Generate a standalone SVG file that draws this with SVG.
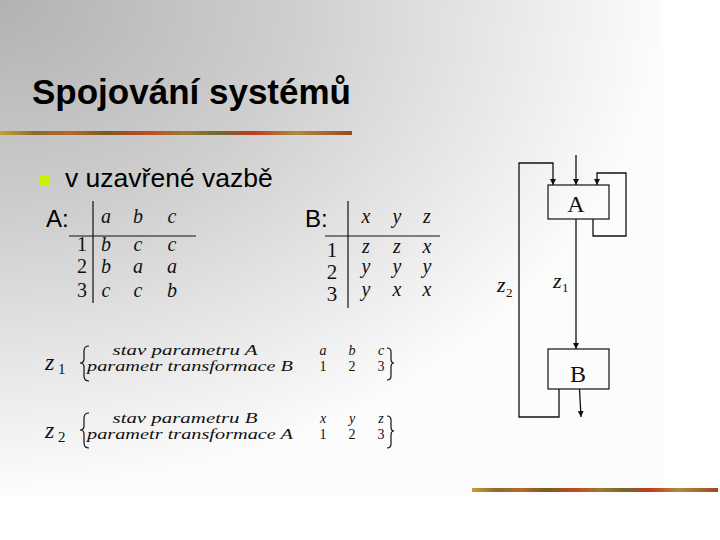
<svg xmlns="http://www.w3.org/2000/svg" width="720" height="540" viewBox="0 0 720 540">
<defs>
<radialGradient id="bg" gradientUnits="userSpaceOnUse" cx="0" cy="0" r="663" gradientTransform="matrix(1 0 0 0.74 0 0)">
<stop offset="0" stop-color="#b2b2b2"/>
<stop offset="0.45" stop-color="#cfcfcf"/>
<stop offset="1" stop-color="#fcfcfc"/>
</radialGradient>
<linearGradient id="bar" x1="0" y1="0" x2="1" y2="0">
<stop offset="0" stop-color="#c9a030"/>
<stop offset="0.1" stop-color="#8a6a30"/>
<stop offset="0.2" stop-color="#b8682a"/>
<stop offset="0.3" stop-color="#7a5a22"/>
<stop offset="0.42" stop-color="#c24a24"/>
<stop offset="0.52" stop-color="#a07834"/>
<stop offset="0.62" stop-color="#6e6a30"/>
<stop offset="0.72" stop-color="#c03a22"/>
<stop offset="0.84" stop-color="#b08a40"/>
<stop offset="1" stop-color="#9a4a22"/>
</linearGradient>
<marker id="arr" viewBox="0 0 6 6" refX="6" refY="3" markerWidth="6" markerHeight="6" markerUnits="userSpaceOnUse" orient="auto">
<path d="M0,0 L6,3 L0,6 z" fill="#111"/>
</marker>
<style>
.title{font-family:"Liberation Sans",Arial,sans-serif;font-weight:bold;font-size:35px;fill:#000}
.sans{font-family:"Liberation Sans",Arial,sans-serif;fill:#000}
.mi{font-family:"Liberation Serif","Times New Roman",serif;font-style:italic;fill:#111}
.mn{font-family:"Liberation Serif","Times New Roman",serif;fill:#111}
.ln{stroke:#111;stroke-width:1.2;fill:none}
.box{fill:none;stroke:#111;stroke-width:1.2}
.con{stroke:#111;stroke-width:1.3;fill:none}
</style>
</defs>
<rect width="720" height="540" fill="#ffffff"/>
<rect x="0" y="0" width="663" height="495" fill="url(#bg)"/>

<g id="title">
<text class="title" x="32" y="104">Spojování systémů</text>
<rect x="0" y="131" width="352" height="4" fill="url(#bar)"/>
</g>
<rect x="472" y="488" width="246" height="4" fill="url(#bar)"/>

<g id="bullet">
<rect x="40" y="175" width="10" height="10" fill="#ccf000"/>
<text class="sans" x="65" y="187" font-size="26.5">v uzavřené vazbě</text>
</g>

<g id="tableA">
<text class="sans" x="46" y="227" font-size="24">A:</text>
<line class="ln" x1="93" y1="201" x2="93" y2="303"/>
<line class="ln" x1="69" y1="236" x2="196" y2="236"/>
<g class="mi" font-size="20" text-anchor="middle">
<text x="106" y="223">a</text><text x="138" y="223">b</text><text x="172" y="223">c</text>
<text x="106" y="251">b</text><text x="138" y="251">c</text><text x="172" y="251">c</text>
<text x="106" y="273">b</text><text x="138" y="273">a</text><text x="172" y="273">a</text>
<text x="106" y="297">c</text><text x="138" y="297">c</text><text x="172" y="297">b</text>
</g>
<g class="mn" font-size="20" text-anchor="middle">
<text x="82" y="251">1</text><text x="82" y="273">2</text><text x="82" y="297">3</text>
</g>
</g>

<g id="tableB">
<text class="sans" x="305" y="227" font-size="24">B:</text>
<line class="ln" x1="348" y1="201" x2="348" y2="308"/>
<line class="ln" x1="325" y1="236" x2="440" y2="236"/>
<g class="mi" font-size="20" text-anchor="middle">
<text x="366" y="223">x</text><text x="397" y="223">y</text><text x="427" y="223">z</text>
<text x="366" y="253">z</text><text x="397" y="253">z</text><text x="427" y="253">x</text>
<text x="366" y="273">y</text><text x="397" y="273">y</text><text x="427" y="273">y</text>
<text x="366" y="296">y</text><text x="397" y="296">x</text><text x="427" y="296">x</text>
</g>
<g class="mn" font-size="21" text-anchor="middle">
<text x="332" y="257">1</text><text x="332" y="279">2</text><text x="332" y="301">3</text>
</g>
</g>

<g id="z1def">
<text class="mi" x="45" y="370" font-size="24">z</text>
<text class="mn" x="58" y="374" font-size="15">1</text>
<path class="ln" d="M89,346 Q84,346 84,351 L84,359 Q84,363 80,363 Q84,363 84,367 L84,376 Q84,381 89,381"/>
<text class="mi" x="185" y="355" font-size="14" text-anchor="middle" textLength="145" lengthAdjust="spacingAndGlyphs">stav parametru A</text>
<text class="mi" x="87" y="371" font-size="14" textLength="206" lengthAdjust="spacingAndGlyphs">parametr transformace B</text>
<g class="mi" font-size="14" text-anchor="middle">
<text x="323" y="355">a</text><text x="352" y="355">b</text><text x="381" y="355">c</text>
</g>
<g class="mn" font-size="14" text-anchor="middle">
<text x="323" y="371">1</text><text x="352" y="371">2</text><text x="381" y="371">3</text>
</g>
<path class="ln" d="M387,348 Q391,348 391,352 L391,359 Q391,363 394,363 Q391,363 391,367 L391,376 Q391,380 387,380"/>
</g>

<g id="z2def">
<text class="mi" x="45" y="438" font-size="24">z</text>
<text class="mn" x="58" y="442" font-size="15">2</text>
<path class="ln" d="M89,413 Q84,413 84,418 L84,426 Q84,430 80,430 Q84,430 84,434 L84,443 Q84,448 89,448"/>
<text class="mi" x="185" y="423" font-size="14" text-anchor="middle" textLength="145" lengthAdjust="spacingAndGlyphs">stav parametru B</text>
<text class="mi" x="87" y="439" font-size="14" textLength="206" lengthAdjust="spacingAndGlyphs">parametr transformace A</text>
<g class="mi" font-size="14" text-anchor="middle">
<text x="323" y="423">x</text><text x="352" y="423">y</text><text x="381" y="423">z</text>
</g>
<g class="mn" font-size="14" text-anchor="middle">
<text x="323" y="439">1</text><text x="352" y="439">2</text><text x="381" y="439">3</text>
</g>
<path class="ln" d="M387,416 Q391,416 391,420 L391,427 Q391,431 394,431 Q391,431 391,435 L391,444 Q391,448 387,448"/>
</g>

<g id="nodeA">
<rect class="box" x="548" y="185" width="61" height="34"/>
<text class="mn" x="576" y="212" font-size="24" text-anchor="middle">A</text>
</g>
<g id="nodeB">
<rect class="box" x="548" y="349" width="61" height="40"/>
<text class="mn" x="578" y="382" font-size="24" text-anchor="middle">B</text>
</g>

<g id="connectors">
<path class="con" d="M576,155 L576,185" marker-end="url(#arr)"/>
<path class="con" d="M559,389 L559,417 L519,417 L519,163 L553,163 L553,185" marker-end="url(#arr)"/>
<path class="con" d="M593,219 L593,236 L626,236 L626,173 L597,173 L597,185" marker-end="url(#arr)"/>
<path class="con" d="M576,219 L576,349" stroke-width="2" marker-end="url(#arr)"/>
<path class="con" d="M579.5,389 L581,417" marker-end="url(#arr)"/>
</g>

<g id="labels">
<text class="mi" x="497" y="292" font-size="22">z</text>
<text class="mn" x="506" y="297" font-size="13">2</text>
<text class="mi" x="553" y="288" font-size="22">z</text>
<text class="mn" x="562" y="292" font-size="13">1</text>
</g>
</svg>
